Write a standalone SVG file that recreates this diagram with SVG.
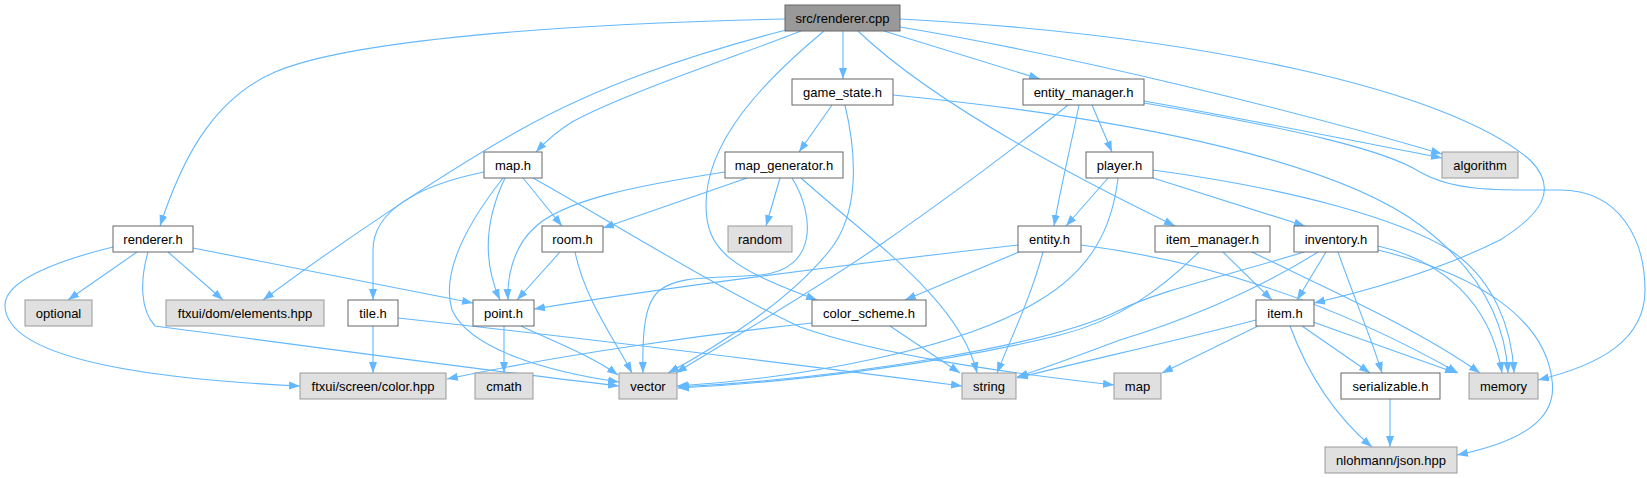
<svg xmlns="http://www.w3.org/2000/svg" width="1647" height="478" viewBox="0 0 1647 478">
<style>
.e{fill:none;stroke:#63b8ff;stroke-width:1.1;marker-end:url(#a)}
.n rect{fill:#fff;stroke:#666;stroke-width:1}
.x rect{fill:#e0e0e0;stroke:#999;stroke-width:1}
.r rect{fill:#999;stroke:#666;stroke-width:1}
text{font-family:"Liberation Sans",Arial,sans-serif;font-size:13px;fill:#000;text-anchor:middle}
</style>
<defs>
<marker id="a" markerWidth="11" markerHeight="9" refX="11" refY="4.5" orient="auto" markerUnits="userSpaceOnUse"><path d="M0,0.5 L11,4.5 L0,8.5 z" fill="#63b8ff"/></marker>
</defs>
<rect width="1647" height="478" fill="#fff"/>
<g id="connectors">
<path class="e" d="M785,19 C560,24 350,40 275,72 C210,100 180,165 160,226"/>
<path class="e" d="M786,30 C690,55 600,85 520,130 C440,175 330,250 263,300"/>
<path class="e" d="M801,31 C740,55 620,95 572,122 C556,132 546,141 536,152"/>
<path class="e" d="M824,31 C765,80 706,140 706,205 C706,250 730,268 817,300"/>
<path class="e" d="M843,31 L843,79"/>
<path class="e" d="M858,31 C930,100 1070,175 1175,226"/>
<path class="e" d="M884,31 L1040,79"/>
<path class="e" d="M900,27 C1070,55 1300,112 1442,154"/>
<path class="e" d="M900,19 C1200,35 1450,90 1530,160 C1560,190 1540,215 1500,240 C1440,270 1370,290 1314,303"/>
<path class="e" d="M832,105 L799,152"/>
<path class="e" d="M845,105 C858,160 858,215 830,250 C790,300 720,345 668,373"/>
<path class="e" d="M893,95 C1150,120 1340,165 1420,225 C1480,270 1505,320 1508,373"/>
<path class="e" d="M1092,105 L1112,152"/>
<path class="e" d="M1079,105 C1070,150 1060,190 1054,226"/>
<path class="e" d="M1068,105 C1000,160 930,210 880,245 C800,300 720,345 676,373"/>
<path class="e" d="M1144,101 C1250,120 1350,140 1442,158"/>
<path class="e" d="M1144,103 C1300,130 1385,150 1420,172 C1455,192 1500,190 1560,190 C1620,190 1645,240 1645,290 C1645,340 1600,365 1538,380"/>
<path class="e" d="M484,172 C420,185 373,210 373,250 L373,300"/>
<path class="e" d="M503,178 C470,220 440,270 452,310 C470,350 550,372 619,382"/>
<path class="e" d="M505,178 C485,220 482,260 500,300"/>
<path class="e" d="M523,178 L562,226"/>
<path class="e" d="M533,178 C600,215 720,290 800,327 C880,355 1000,372 1114,385"/>
<path class="e" d="M747,178 L603,228"/>
<path class="e" d="M725,172 C640,185 560,200 532,230 C512,250 507,280 508,300"/>
<path class="e" d="M780,178 L766,226"/>
<path class="e" d="M792,178 C815,215 818,270 760,275 C710,279 680,275 660,290 C645,302 642,330 643,373"/>
<path class="e" d="M801,178 C870,240 960,300 977,373"/>
<path class="e" d="M1108,178 L1066,226"/>
<path class="e" d="M1153,178 L1305,226"/>
<path class="e" d="M1118,178 C1112,230 1090,270 1040,300 C960,350 800,378 677,386"/>
<path class="e" d="M1153,170 C1300,190 1400,220 1450,250 C1495,280 1512,330 1514,373"/>
<path class="e" d="M137,252 L68,300"/>
<path class="e" d="M168,252 L223,300"/>
<path class="e" d="M193,248 L473,303"/>
<path class="e" d="M113,247 C60,260 5,280 5,305 C5,355 130,378 300,386"/>
<path class="e" d="M148,252 C140,280 140,310 155,326 C300,345 480,370 619,386"/>
<path class="e" d="M560,252 L517,300"/>
<path class="e" d="M575,252 C585,300 615,340 632,373"/>
<path class="e" d="M1018,245 C800,270 650,290 534,309"/>
<path class="e" d="M1019,252 L905,300"/>
<path class="e" d="M1043,252 C1030,300 1010,340 997,373"/>
<path class="e" d="M1081,245 C1200,260 1330,300 1458,373"/>
<path class="e" d="M1223,252 L1272,300"/>
<path class="e" d="M1199,252 C1160,290 1120,320 1060,335 C950,362 800,382 678,388"/>
<path class="e" d="M1252,252 C1330,290 1420,330 1480,373"/>
<path class="e" d="M1326,252 L1297,300"/>
<path class="e" d="M1304,252 C1230,275 1160,290 1120,310 C1050,345 850,378 678,387"/>
<path class="e" d="M1318,252 C1250,295 1170,325 1120,340 C1080,355 1045,368 1017,377"/>
<path class="e" d="M1338,252 C1355,300 1372,340 1382,373"/>
<path class="e" d="M1378,246 C1440,260 1490,300 1502,373"/>
<path class="e" d="M1378,250 C1480,275 1545,320 1552,380 C1558,420 1520,442 1457,455"/>
<path class="e" d="M1256,320 C1180,340 1080,362 1017,378"/>
<path class="e" d="M1258,326 L1162,373"/>
<path class="e" d="M1302,326 L1370,373"/>
<path class="e" d="M1313,322 L1456,373"/>
<path class="e" d="M1290,326 C1310,380 1340,420 1372,447"/>
<path class="e" d="M1390,399 L1390,447"/>
<path class="e" d="M504,326 L504,373"/>
<path class="e" d="M521,326 C550,340 590,355 618,375"/>
<path class="e" d="M373,326 L373,373"/>
<path class="e" d="M398,318 C600,340 800,365 962,386"/>
<path class="e" d="M812,323 C700,335 560,355 447,379"/>
<path class="e" d="M890,326 L960,373"/>
</g>
<g id="n_cpp" class="r"><rect x="785" y="5" width="115" height="26"/><text x="842.5" y="22.5">src/renderer.cpp</text></g>
<g id="n_game_state" class="n"><rect x="792" y="79" width="101" height="26"/><text x="842.5" y="96.5">game_state.h</text></g>
<g id="n_entity_manager" class="n"><rect x="1023" y="79" width="121" height="26"/><text x="1083.5" y="96.5">entity_manager.h</text></g>
<g id="n_map" class="n"><rect x="484" y="152" width="58" height="26"/><text x="513" y="169.5">map.h</text></g>
<g id="n_map_generator" class="n"><rect x="725" y="152" width="118" height="26"/><text x="784" y="169.5">map_generator.h</text></g>
<g id="n_player" class="n"><rect x="1086" y="152" width="67" height="26"/><text x="1119.5" y="169.5">player.h</text></g>
<g id="n_algorithm" class="x"><rect x="1442" y="152" width="76" height="26"/><text x="1480" y="169.5">algorithm</text></g>
<g id="n_renderer_h" class="n"><rect x="113" y="226" width="80" height="26"/><text x="153" y="243.5">renderer.h</text></g>
<g id="n_room" class="n"><rect x="542" y="226" width="61" height="26"/><text x="572.5" y="243.5">room.h</text></g>
<g id="n_random" class="x"><rect x="728" y="226" width="64" height="26"/><text x="760" y="243.5">random</text></g>
<g id="n_entity" class="n"><rect x="1018" y="226" width="63" height="26"/><text x="1049.5" y="243.5">entity.h</text></g>
<g id="n_item_manager" class="n"><rect x="1155" y="226" width="115" height="26"/><text x="1212.5" y="243.5">item_manager.h</text></g>
<g id="n_inventory" class="n"><rect x="1294" y="226" width="84" height="26"/><text x="1336" y="243.5">inventory.h</text></g>
<g id="n_optional" class="x"><rect x="25" y="300" width="67" height="26"/><text x="58.5" y="317.5">optional</text></g>
<g id="n_elements" class="x"><rect x="166" y="300" width="158" height="26"/><text x="245" y="317.5">ftxui/dom/elements.hpp</text></g>
<g id="n_tile" class="n"><rect x="348" y="300" width="50" height="26"/><text x="373" y="317.5">tile.h</text></g>
<g id="n_point" class="n"><rect x="473" y="300" width="61" height="26"/><text x="503.5" y="317.5">point.h</text></g>
<g id="n_color_scheme" class="n"><rect x="812" y="300" width="114" height="26"/><text x="869" y="317.5">color_scheme.h</text></g>
<g id="n_item" class="n"><rect x="1256" y="300" width="58" height="26"/><text x="1285" y="317.5">item.h</text></g>
<g id="n_color_hpp" class="x"><rect x="300" y="373" width="146" height="26"/><text x="373" y="390.5">ftxui/screen/color.hpp</text></g>
<g id="n_cmath" class="x"><rect x="475" y="373" width="58" height="26"/><text x="504" y="390.5">cmath</text></g>
<g id="n_vector" class="x"><rect x="619" y="373" width="58" height="26"/><text x="648" y="390.5">vector</text></g>
<g id="n_string" class="x"><rect x="962" y="373" width="54" height="26"/><text x="989" y="390.5">string</text></g>
<g id="n_map_std" class="x"><rect x="1114" y="373" width="47" height="26"/><text x="1137.5" y="390.5">map</text></g>
<g id="n_serializable" class="n"><rect x="1341" y="373" width="99" height="26"/><text x="1390.5" y="390.5">serializable.h</text></g>
<g id="n_memory" class="x"><rect x="1469" y="373" width="69" height="26"/><text x="1503.5" y="390.5">memory</text></g>
<g id="n_json" class="x"><rect x="1325" y="447" width="132" height="26"/><text x="1391" y="464.5">nlohmann/json.hpp</text></g>
</svg>
